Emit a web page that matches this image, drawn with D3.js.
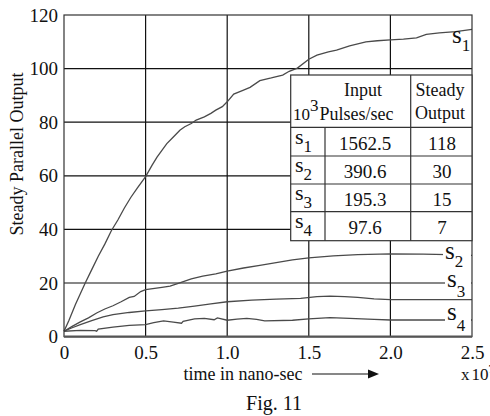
<!DOCTYPE html>
<html>
<head>
<meta charset="utf-8">
<script src="https://cdn.jsdelivr.net/npm/d3@7"></script>
<style>
  body { margin: 0; background: #fff; }
  svg { display: block; font-family: "Liberation Serif", "DejaVu Serif", serif; }
</style>
</head>
<body>
<script>
// ---- data ----
const xTicks = [0, 0.5, 1.0, 1.5, 2.0, 2.5];
const yTicks = [0, 20, 40, 60, 80, 100, 120];

// [time (x10^7 ns), steady parallel output]
const s1 = [[0,2],[0.03,6],[0.07,12],[0.1,16],[0.13,20],[0.17,25],[0.21,30],[0.25,34.5],[0.29,39.5],[0.33,43.5],[0.37,48],[0.41,52],[0.45,55.5],[0.5,59.7],[0.54,64],[0.57,67],[0.6,69.5],[0.63,72],[0.67,74.5],[0.71,77],[0.74,78.3],[0.78,79.5],[0.81,80.8],[0.86,82],[0.9,83.3],[0.93,84.5],[0.97,85.8],[1.0,87.6],[1.04,90.5],[1.1,92],[1.14,93],[1.2,95.5],[1.27,96.5],[1.34,97.6],[1.38,99],[1.43,100.2],[1.5,103.5],[1.55,105],[1.62,106.2],[1.67,106.9],[1.75,108.5],[1.85,110],[1.92,110.4],[2.0,110.7],[2.08,111],[2.16,111.5],[2.22,112.8],[2.3,113.3],[2.4,113.8],[2.5,114.6]];
const s2 = [[0,2],[0.05,3.8],[0.1,5.5],[0.15,7],[0.2,8.8],[0.25,10.3],[0.3,11.5],[0.35,13],[0.4,14.6],[0.43,15],[0.47,16.8],[0.5,17.5],[0.6,18.4],[0.65,18.8],[0.7,19.9],[0.78,21.5],[0.85,22.6],[0.93,23.4],[1.0,24.4],[1.1,25.6],[1.2,26.6],[1.3,27.6],[1.4,28.6],[1.5,29.4],[1.65,30.1],[1.8,30.6],[2.0,30.9],[2.2,30.8],[2.35,30.6],[2.5,30.3]];
const s3 = [[0,2],[0.05,3.3],[0.1,4.5],[0.17,6],[0.24,7.4],[0.3,8.2],[0.4,9],[0.5,9.6],[0.6,10.1],[0.7,10.6],[0.8,11.4],[0.9,12.2],[1.0,13],[1.15,13.6],[1.3,14],[1.45,14.3],[1.55,14.9],[1.63,15.1],[1.72,14.9],[1.8,14.6],[1.9,14.1],[2.0,13.8],[2.2,13.8],[2.5,13.8]];
const s4 = [[0,2],[0.1,2.3],[0.19,2.2],[0.2,2.0],[0.21,2.8],[0.3,3.5],[0.4,4.2],[0.5,4.5],[0.55,5.2],[0.61,5.9],[0.67,5.4],[0.72,5.0],[0.73,5.7],[0.8,6.6],[0.86,6.8],[0.92,6.3],[0.94,7.0],[1.0,6.1],[1.06,6.5],[1.12,6.8],[1.18,6.4],[1.23,5.9],[1.4,6.1],[1.5,6.6],[1.63,7.1],[1.75,6.8],[1.9,6.4],[2.0,6.2],[2.5,6.2]];

// table
const tableNames = ["1", "2", "3", "4"];
const tableInput = ["1562.5", "390.6", "195.3", "97.6"];
const tableOutput = ["118", "30", "15", "7"];

const W = 490, H = 416;
const svg = d3.select("body").append("svg").attr("width", W).attr("height", H);

const x = d3.scaleLinear().domain([0, 2.5]).range([64, 472]);
const y = d3.scaleLinear().domain([0, 120]).range([336.6, 15]);

// grid
svg.append("g").selectAll("line").data(yTicks.slice(1, -1)).enter().append("line")
  .attr("x1", x(0)).attr("x2", x(2.5))
  .attr("y1", d => y(d)).attr("y2", d => y(d))
  .style("stroke", "#111").style("stroke-width", 1.2);
svg.append("g").selectAll("line").data(xTicks.slice(1, -1)).enter().append("line")
  .attr("x1", d => x(d)).attr("x2", d => x(d))
  .attr("y1", y(0)).attr("y2", y(120))
  .style("stroke", "#111").style("stroke-width", 1.2);

// curves
const line = d3.line().x(d => x(d[0])).y(d => y(d[1]));
svg.append("g").selectAll("path").data([s1, s2, s3, s4]).enter().append("path")
  .attr("d", line)
  .style("fill", "none")
  .style("stroke", "#4a4a4a")
  .style("stroke-width", 1.3);

// frame
svg.append("rect")
  .attr("x", x(0)).attr("y", y(120))
  .attr("width", x(2.5) - x(0)).attr("height", y(0) - y(120))
  .style("fill", "none").style("stroke", "#333").style("stroke-width", 1.2);
svg.append("line")
  .attr("x1", x(0)).attr("x2", x(2.5)).attr("y1", y(0)).attr("y2", y(0))
  .style("stroke", "#555").style("stroke-width", 2.2);

// axes (labels only)
const yAxis = svg.append("g").attr("transform", `translate(${x(0)},0)`)
  .call(d3.axisLeft(y).tickValues(yTicks).tickSize(0).tickPadding(6).tickFormat(d3.format("d")));
const xAxis = svg.append("g").attr("transform", `translate(0,${y(0)})`)
  .call(d3.axisBottom(x).tickValues(xTicks).tickSize(0).tickPadding(9)
    .tickFormat(d => d === 0 ? "0" : d3.format(".1f")(d)));
[yAxis, xAxis].forEach(a => {
  a.select(".domain").remove();
  a.selectAll("text").attr("font-family", "Liberation Serif").attr("font-size", 19).attr("fill", "#111");
});

// series labels on the right
const sLabel = (xx, yy, digit, sub) => {
  const g = svg.append("g");
  g.append("rect").attr("x", xx - 2).attr("y", yy - 12).attr("width", 472 - xx + 1).attr("height", 22)
    .style("fill", "#fff");
  const t = g.append("text").attr("x", xx).attr("y", yy).attr("font-size", 25).attr("fill", "#111");
  t.append("tspan").text("s");
  t.append("tspan").attr("dy", sub).attr("font-size", 17).text(digit);
};
svg.append("text").attr("x", 452).attr("y", 43).attr("font-size", 25).attr("fill", "#111")
  .call(t => { t.append("tspan").text("s"); t.append("tspan").attr("dy", 8).attr("font-size", 17).text("1"); });
sLabel(445, 259, "2", 8);
sLabel(447, 287, "3", 10);
sLabel(447, 320, "4", 11);

// table
const tx0 = 290.7, tx1 = 325, tx2 = 410.7, tx3 = 472;
const rowY = [75, 127.3, 156, 184, 211.7, 240.7];
const tbl = svg.append("g");
tbl.append("rect").attr("x", tx0).attr("y", rowY[0]).attr("width", tx3 - tx0).attr("height", rowY[5] - rowY[0])
  .style("fill", "#fff").style("stroke", "#333").style("stroke-width", 1.2);
tbl.selectAll("line.h").data(rowY.slice(1, 5)).enter().append("line")
  .attr("x1", tx0).attr("x2", tx3).attr("y1", d => d).attr("y2", d => d)
  .style("stroke", "#333").style("stroke-width", 1.2);
tbl.append("line").attr("x1", tx1).attr("x2", tx1).attr("y1", rowY[1]).attr("y2", rowY[5])
  .style("stroke", "#333").style("stroke-width", 1.2);
tbl.append("line").attr("x1", tx2).attr("x2", tx2).attr("y1", rowY[0]).attr("y2", rowY[5])
  .style("stroke", "#333").style("stroke-width", 1.2);

const hdr = tbl.append("g").attr("font-size", 18).attr("fill", "#111");
hdr.append("text").attr("x", 363).attr("y", 96).attr("text-anchor", "middle").text("Input");
hdr.append("text").attr("x", 293).attr("y", 120)
  .call(t => {
    t.append("tspan").attr("font-size", 17).text("10");
    t.append("tspan").attr("dy", -9).attr("font-size", 17).text("3");
    t.append("tspan").attr("dy", 9).attr("dx", 1).text("Pulses/sec");
  });
hdr.append("text").attr("x", 440).attr("y", 96).attr("text-anchor", "middle").text("Steady");
hdr.append("text").attr("x", 440).attr("y", 119).attr("text-anchor", "middle").text("Output");

tableNames.forEach((n, i) => {
  const yy = (rowY[i + 1] + rowY[i + 2]) / 2;
  tbl.append("text").attr("x", 295).attr("y", yy + 2).attr("font-size", 22).attr("fill", "#111")
    .call(t => { t.append("tspan").text("s"); t.append("tspan").attr("dy", 8).attr("font-size", 17).text(n); });
  tbl.append("text").attr("x", 365).attr("y", yy + 8).attr("text-anchor", "middle")
    .attr("font-size", 19).attr("fill", "#111").text(tableInput[i]);
  tbl.append("text").attr("x", 442).attr("y", yy + 8).attr("text-anchor", "middle")
    .attr("font-size", 19).attr("fill", "#111").text(tableOutput[i]);
});

// axis titles
svg.append("text").attr("transform", "translate(23,154) rotate(-90)")
  .attr("text-anchor", "middle").attr("font-size", 18).attr("fill", "#111")
  .text("Steady Parallel Output");
svg.append("text").attr("x", 243).attr("y", 380).attr("text-anchor", "middle")
  .attr("font-size", 18).attr("fill", "#111").text("time in nano-sec");
svg.append("line").attr("x1", 312).attr("x2", 370).attr("y1", 374).attr("y2", 374)
  .style("stroke", "#111").style("stroke-width", 1.2);
svg.append("path").attr("d", "M368,369.5 L379,374 L368,378.5 Z").style("fill", "#111");
svg.append("text").attr("x", 461).attr("y", 380).attr("font-size", 17).attr("fill", "#111")
  .call(t => {
    t.append("tspan").text("x");
    t.append("tspan").attr("dx", 2).text("10");
    t.append("tspan").attr("dy", -7).attr("font-size", 12).text("7");
  });
svg.append("text").attr("x", 274).attr("y", 410).attr("text-anchor", "middle")
  .attr("font-size", 20).attr("fill", "#111").text("Fig. 11");
</script>
</body>
</html>
